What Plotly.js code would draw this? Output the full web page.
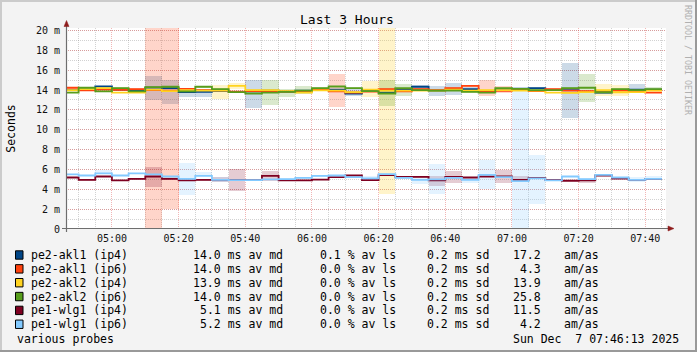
<!DOCTYPE html>
<html>
<head>
<meta charset="utf-8">
<script src="https://cdn.plot.ly/plotly-3.0.1.min.js"></script>
<style>html,body{margin:0;padding:0;background:#f3f3f3;}#chart{width:697px;height:352px;}</style>
</head>
<body>
<div id="chart"></div>
<script>
// ---- data ----
const day = '2025-12-07 ';
const binStart = ['04:45','04:50','04:55','05:00','05:05','05:10','05:15','05:20','05:25','05:30','05:35','05:40',
  '05:45','05:50','05:55','06:00','06:05','06:10','06:15','06:20','06:25','06:30','06:35','06:40',
  '06:45','06:50','06:55','07:00','07:05','07:10','07:15','07:20','07:25','07:30','07:35','07:40'];
const binEnd = '07:45';
const rangeStart = '04:46:13';
const rangeEnd = '07:46:13';

const names = ['pe2-akl1 (ip4)','pe2-akl1 (ip6)','pe2-akl2 (ip4)','pe2-akl2 (ip6)','pe1-wlg1 (ip4)','pe1-wlg1 (ip6)'];
const colors = ['#004586','#ff420e','#ffd320','#579d1c','#7e0021','#83caff'];
const bandColors = ['rgba(0,69,134,0.2)','rgba(255,66,14,0.22)','rgba(255,211,32,0.24)','rgba(87,157,28,0.22)','rgba(126,0,33,0.2)','rgba(131,202,255,0.22)'];

// medians (ms)
const medAkl1v4 = [14.0,14.0,14.38,14.05,14.0,14.25,14.2,13.8,13.82,13.9,13.82,13.88,13.95,13.85,13.95,14.0,14.05,13.65,13.95,13.75,14.05,14.33,13.95,14.0,14.1,13.9,14.0,14.15,14.2,14.0,14.0,13.8,13.75,14.0,14.05,14.05];
const medAkl1v6 = [14.23,13.97,14.05,14.02,14.1,14.0,13.95,14.12,14.0,13.97,13.85,13.9,13.9,13.85,13.85,14.05,13.88,13.75,13.85,14.1,13.88,14.1,14.0,14.18,14.43,13.9,13.92,14.05,13.9,14.1,13.95,13.9,13.9,13.95,13.9,13.75];
const medAkl2v4 = [14.0,14.1,14.2,13.75,13.75,14.05,13.9,14.0,13.95,13.95,14.42,14.0,14.0,13.9,13.75,13.97,13.95,13.8,14.05,13.95,13.95,13.95,13.95,14.05,13.95,14.0,14.0,13.95,13.95,13.75,13.72,13.8,13.98,13.78,13.8,13.95];
const medAkl2v6 = [13.75,14.23,13.87,14.2,13.87,14.3,14.33,13.87,14.33,14.1,13.8,13.65,13.75,13.82,13.95,14.19,14.36,14.2,13.9,13.65,14.2,14.0,13.95,13.95,13.82,13.75,14.2,14.12,14.0,14.0,14.2,14.23,13.78,14.1,14.0,14.1];
const medWlg1v4 = [5.19,4.95,5.29,4.89,5.05,5.29,5.05,4.89,4.95,4.95,4.95,4.92,5.36,4.89,4.89,4.98,5.22,5.39,4.92,5.42,5.25,5.25,4.89,5.25,5.19,5.29,5.29,4.95,5.15,4.95,4.86,4.89,5.39,5.08,4.95,5.05];
const medWlg1v6 = [5.5,5.39,5.6,5.39,5.6,5.5,5.29,5.05,5.36,4.95,4.92,4.92,5.0,5.02,5.15,5.36,5.39,5.22,5.1,5.53,5.15,4.95,5.0,5.15,4.95,5.46,5.22,4.82,5.1,4.89,5.29,5.02,5.46,5.19,4.95,5.05];

// smoke band lower / upper (ms)
const loAkl1v4 = [13.9,13.9,14.25,13.95,13.9,13.0,12.55,13.35,13.3,13.8,13.7,12.17,13.85,13.75,13.85,13.9,13.95,13.4,13.85,13.65,13.95,13.9,13.45,13.55,13.9,13.8,13.9,14.05,14.1,13.9,11.16,13.7,13.65,13.9,13.88,13.95];
const hiAkl1v4 = [14.1,14.1,14.45,14.15,14.1,15.37,15.06,14.1,14.1,14.0,13.95,15.06,14.05,13.95,14.05,14.1,14.15,14.2,14.05,13.85,14.15,14.5,14.36,14.7,14.3,14.0,14.1,14.25,14.3,14.1,16.7,13.9,13.85,14.1,14.56,14.15];
const loAkl1v6 = [14.15,13.9,13.97,13.95,14.02,0,2.0,14.04,13.92,13.9,13.78,13.82,13.82,13.78,13.78,13.97,12.27,13.68,13.78,14.02,13.8,14.02,13.92,14.1,14.35,13.4,13.7,13.97,13.82,14.02,13.88,13.82,13.82,13.88,13.82,13.68];
const hiAkl1v6 = [14.31,14.05,14.13,14.1,14.18,21,21,14.2,14.08,14.05,13.92,13.98,13.98,13.92,13.92,14.13,15.57,13.82,13.92,14.18,13.96,14.18,14.08,14.26,14.51,15.03,14.4,14.13,13.98,14.18,14.02,13.98,13.98,14.02,13.98,13.82];
const loAkl2v4 = [13.75,14.0,14.1,13.67,13.67,13.97,13.82,13.92,13.87,13.05,14.1,13.92,13.92,13.82,13.67,13.89,13.87,13.72,13.28,3.55,13.87,13.87,13.87,13.97,13.87,13.92,13.92,13.87,13.87,13.67,13.64,13.72,13.45,13.4,13.72,13.87];
const hiAkl2v4 = [14.1,14.2,14.3,13.83,13.83,14.13,13.98,14.08,14.03,14.46,14.75,14.08,14.08,13.98,13.83,14.05,14.03,13.88,14.96,21,14.03,14.03,14.03,14.13,14.03,14.08,14.08,14.03,14.03,13.83,13.8,13.88,14.63,14.5,13.88,14.03];
const loAkl2v6 = [13.67,14.15,13.79,14.12,13.79,14.22,14.25,13.79,14.25,14.02,13.72,13.57,12.54,13.35,13.62,14.11,14.28,14.12,13.82,12.44,13.45,13.92,13.87,13.87,13.74,13.67,14.12,14.04,13.92,13.92,14.12,12.78,13.7,14.02,13.92,13.9];
const hiAkl2v6 = [13.83,14.31,13.95,14.28,13.95,14.38,14.41,13.95,14.41,14.18,13.88,13.73,15.03,14.1,14.39,14.27,14.44,14.28,13.98,15.06,14.56,14.08,14.03,14.03,13.9,13.83,14.28,14.2,14.08,14.08,14.28,15.57,13.86,14.18,14.08,14.3];
const loWlg1v4 = [5.12,4.88,5.22,4.82,4.98,4.21,4.98,4.82,4.88,4.75,3.81,4.85,4.8,4.82,4.82,4.91,5.15,5.32,4.85,5.35,5.18,5.18,4.31,4.65,5.12,5.22,4.62,4.75,5.08,4.88,4.79,4.6,5.32,5.01,4.88,4.98];
const hiWlg1v4 = [5.26,5.02,5.36,4.96,5.12,6.23,5.12,4.96,5.02,5.2,6.07,4.99,5.8,4.96,4.96,5.05,5.29,5.46,4.99,5.49,5.32,5.32,5.39,5.8,5.26,5.36,5.9,5.3,5.22,5.02,4.93,5.0,5.46,5.15,5.02,5.12];
const loWlg1v6 = [5.43,5.32,5.53,5.32,5.53,5.43,5.22,3.44,5.3,4.75,4.85,4.85,4.93,4.95,5.08,5.29,5.32,5.15,4.9,5.46,5.08,4.55,3.5,5.08,4.6,4.05,5.15,0,2.54,4.82,5.22,4.95,5.39,5.12,4.75,5.0];
const hiWlg1v6 = [5.57,5.46,5.9,5.46,5.67,5.57,5.36,6.63,5.75,5.2,4.99,4.99,5.07,5.09,5.22,5.43,5.46,5.29,5.3,5.6,5.22,5.15,6.5,5.22,5.15,6.97,5.29,13.9,7.5,4.96,5.36,5.09,5.53,5.26,5.2,5.3];

// legend statistics
const statMedian = [14.0,14.0,13.9,14.0,5.1,5.2];
const statLoss = [0.1,0.0,0.0,0.0,0.0,0.0];
const statSd = [0.2,0.2,0.2,0.2,0.2,0.2];
const statAmas = [17.2,4.3,13.9,25.8,11.5,4.2];

const yTickVals = [0,2,4,6,8,10,12,14,16,18,20];
const yTickText = ['0','2 m','4 m','6 m','8 m','10 m','12 m','14 m','16 m','18 m','20 m'];
const footerLeft = 'various probes';
const footerRight = 'Sun Dec \u00a07 07:46:13 2025';
const sideText = 'RRDTOOL / TOBI OETIKER';

// ---- build ----
const medians = [medAkl1v4, medAkl1v6, medAkl2v4, medAkl2v6, medWlg1v4, medWlg1v6];
const los = [loAkl1v4, loAkl1v6, loAkl2v4, loAkl2v6, loWlg1v4, loWlg1v6];
const his = [hiAkl1v4, hiAkl1v6, hiAkl2v4, hiAkl2v6, hiWlg1v4, hiWlg1v6];
const xs = binStart.map(t => day + t + ':00');
const xsLine = xs.concat([day + binEnd + ':00']);
const FONT = 'DejaVu Sans Mono, monospace';

const traces = [];
for (let s = 0; s < 6; s++) {
  traces.push({
    type: 'bar', x: xs, base: los[s], y: his[s].map((h, i) => h - los[s][i]),
    width: 300000, offset: 0, marker: {color: bandColors[s], line: {width: 0}},
    hoverinfo: 'skip', showlegend: false
  });
}
for (let s = 0; s < 6; s++) {
  traces.push({
    type: 'scatter', mode: 'lines', x: xsLine, y: medians[s].concat([medians[s][medians[s].length - 1]]),
    line: {shape: 'hv', color: colors[s], width: 1.8}, name: names[s], showlegend: false
  });
}

const L = 66, T = 28, W = 600, H = 201;
const px = x => (x - L) / W;
const py = y => (T + H - y) / H;

const annotations = [];
const shapes = [];
for (let i = 0; i < 6; i++) {
  const ry = 255 + 13.85 * i;
  const base = {xref: 'paper', yref: 'paper', showarrow: false, yanchor: 'middle', y: py(ry), font: {family: FONT, size: 11.5, color: '#000'}};
  annotations.push(Object.assign({}, base, {x: px(28.5), xanchor: 'left', text: names[i]}));
  annotations.push(Object.assign({}, base, {x: px(284.5), xanchor: 'right', text: statMedian[i].toFixed(1) + ' ms av md'}));
  annotations.push(Object.assign({}, base, {x: px(398), xanchor: 'right', text: statLoss[i].toFixed(1) + ' % av ls'}));
  annotations.push(Object.assign({}, base, {x: px(491), xanchor: 'right', text: statSd[i].toFixed(1) + ' ms sd'}));
  annotations.push(Object.assign({}, base, {x: px(543), xanchor: 'right', text: statAmas[i].toFixed(1)}));
  annotations.push(Object.assign({}, base, {x: px(562.3), xanchor: 'left', text: 'am/as'}));
  shapes.push({type: 'rect', xref: 'paper', yref: 'paper', x0: px(15.5), x1: px(23), y0: py(ry + 4.2), y1: py(ry - 4.2),
    fillcolor: colors[i], line: {color: '#000', width: 1}});
}
annotations.push({xref: 'paper', yref: 'paper', showarrow: false, x: px(15), xanchor: 'left', y: py(338.5), yanchor: 'middle', text: footerLeft, font: {family: FONT, size: 11.5, color: '#000'}});
annotations.push({xref: 'paper', yref: 'paper', showarrow: false, x: px(681), xanchor: 'right', y: py(338.5), yanchor: 'middle', text: footerRight, font: {family: FONT, size: 11.5, color: '#000'}});
annotations.push({xref: 'paper', yref: 'paper', showarrow: false, x: px(688), xanchor: 'center', y: py(60), yanchor: 'middle', textangle: 90, text: sideText, font: {family: FONT, size: 8.3, color: '#b0b0b0'}});

// axis lines and arrows
const axisCol = '#6e6e6e', arrowCol = '#8e1c1c';
shapes.push({type: 'line', xref: 'paper', yref: 'paper', x0: px(62), x1: px(669), y0: py(228.5), y1: py(228.5), line: {color: axisCol, width: 1.2}, layer: 'above'});
shapes.push({type: 'line', xref: 'paper', yref: 'paper', x0: px(66.5), x1: px(66.5), y0: py(232), y1: py(24), line: {color: axisCol, width: 1.2}, layer: 'above'});
shapes.push({type: 'path', xref: 'paper', yref: 'paper', layer: 'above', fillcolor: arrowCol, line: {color: arrowCol, width: 0.5},
  path: `M ${px(64)} ${py(26.5)} L ${px(69)} ${py(26.5)} L ${px(66.5)} ${py(20.5)} Z`});
shapes.push({type: 'path', xref: 'paper', yref: 'paper', layer: 'above', fillcolor: arrowCol, line: {color: arrowCol, width: 0.5},
  path: `M ${px(668)} ${py(226)} L ${px(668)} ${py(231)} L ${px(674)} ${py(228.5)} Z`});
// frame
shapes.push({type: 'line', xref: 'paper', yref: 'paper', x0: px(0), x1: px(697), y0: py(1), y1: py(1), line: {color: '#cbcbcb', width: 2}});
shapes.push({type: 'line', xref: 'paper', yref: 'paper', x0: px(1), x1: px(1), y0: py(0), y1: py(352), line: {color: '#cbcbcb', width: 2}});
shapes.push({type: 'line', xref: 'paper', yref: 'paper', x0: px(0), x1: px(697), y0: py(351), y1: py(351), line: {color: '#999999', width: 2}});
shapes.push({type: 'line', xref: 'paper', yref: 'paper', x0: px(696), x1: px(696), y0: py(0), y1: py(352), line: {color: '#999999', width: 2}});

const majorGrid = 'rgba(222,80,80,0.42)', minorGrid = 'rgba(143,143,143,0.4)';
const layout = {
  width: 697, height: 352,
  margin: {l: L, r: 697 - L - W, t: T, b: 352 - T - H, pad: 0},
  paper_bgcolor: '#f3f3f3', plot_bgcolor: '#ffffff',
  barmode: 'overlay', showlegend: false, bargap: 0,
  title: {text: 'Last 3 Hours', font: {family: FONT, size: 13, color: '#000'}, xref: 'container', yref: 'container',
    x: 347 / 697, xanchor: 'center', y: 1 - 19 / 352, yanchor: 'middle'},
  xaxis: {
    type: 'date', range: [day + rangeStart, day + rangeEnd], tickmode: 'linear', tick0: day + '05:00:00', dtick: 1200000,
    tickformat: '%H:%M', showgrid: true, gridcolor: majorGrid, griddash: '1px,1px', gridwidth: 1,
    zeroline: false, showline: false, ticks: '', ticklabelstandoff: 2,
    tickfont: {family: FONT, size: 10, color: '#111'},
    minor: {tickmode: 'linear', tick0: day + '05:00:00', dtick: 300000, showgrid: true, gridcolor: minorGrid, griddash: '1px,1px', gridwidth: 1}
  },
  yaxis: {
    range: [0, H / 9.925], tickmode: 'array', tickvals: yTickVals, ticktext: yTickText,
    showgrid: true, gridcolor: majorGrid, griddash: '1px,1px', gridwidth: 1,
    zeroline: false, showline: false, ticks: '', ticklabelstandoff: 5,
    tickfont: {family: FONT, size: 10, color: '#111'},
    title: {text: 'Seconds', font: {family: FONT, size: 11.5, color: '#000'}, standoff: 17},
    minor: {tickmode: 'linear', tick0: 0, dtick: 1, showgrid: true, gridcolor: minorGrid, griddash: '1px,1px', gridwidth: 1}
  },
  annotations: annotations, shapes: shapes
};
Plotly.newPlot('chart', traces, layout, {staticPlot: true, displayModeBar: false});
</script>
</body>
</html>
